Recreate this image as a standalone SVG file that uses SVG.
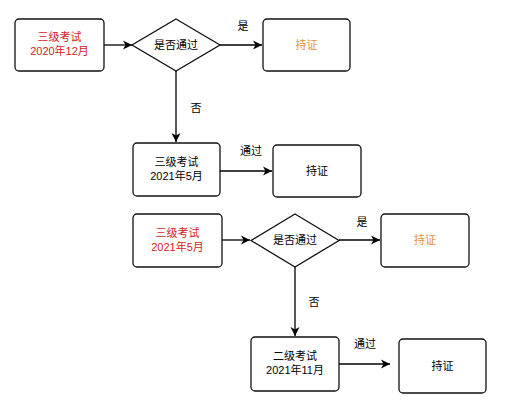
<svg xmlns="http://www.w3.org/2000/svg" width="528" height="404" viewBox="0 0 528 404">
<defs>
<marker id="arr" markerWidth="10" markerHeight="10" refX="9" refY="5" orient="auto" markerUnits="userSpaceOnUse">
<path d="M0,0.5 L9,5 L0,9.5 L2.5,5 Z" fill="#000"/>
</marker>
<style>
.box{fill:#fff;stroke:#111;stroke-width:1.3}
.t{font-family:"Liberation Sans","Noto Sans CJK SC",sans-serif;font-size:11px;text-anchor:middle}
.red{fill:#d42424}
.org{fill:#e8913a}
.blk{fill:#000}
.edge{stroke:#000;stroke-width:1.3;fill:none;marker-end:url(#arr)}
</style>
</defs>
<rect width="528" height="404" fill="#fff"/>
<g id="connectors">
<line class="edge" x1="104" y1="45" x2="132" y2="45"/>
<line class="edge" x1="220" y1="45" x2="262" y2="45"/>
<line class="edge" x1="176" y1="71" x2="176" y2="142"/>
<line class="edge" x1="220" y1="171" x2="272" y2="171"/>
<line class="edge" x1="222" y1="240" x2="250" y2="240"/>
<line class="edge" x1="339" y1="240" x2="380" y2="240"/>
<line class="edge" x1="295" y1="267" x2="295" y2="336"/>
<line class="edge" x1="339" y1="364" x2="390" y2="364"/>
<text class="t blk" x="243" y="30">是</text>
<text class="t blk" x="196" y="112">否</text>
<text class="t blk" x="251" y="155">通过</text>
<text class="t blk" x="362" y="226">是</text>
<text class="t blk" x="314" y="306">否</text>
<text class="t blk" x="365" y="348">通过</text>
</g>
<g id="n1">
<rect class="box" x="15" y="19" width="89" height="52" rx="4"/>
<text class="t red" x="59.5" y="41">三级考试</text>
<text class="t red" x="59.5" y="55">2020年12月</text>
</g>
<g id="d1">
<polygon class="box" points="176,19 220,45 176,71 132,45"/>
<text class="t blk" x="176" y="49">是否通过</text>
</g>
<g id="n2">
<rect class="box" x="263" y="19" width="87" height="52" rx="4"/>
<text class="t org" x="306.5" y="49">持证</text>
</g>
<g id="n3">
<rect class="box" x="133" y="143" width="87" height="53" rx="4"/>
<text class="t blk" x="176.5" y="166">三级考试</text>
<text class="t blk" x="176.5" y="180">2021年5月</text>
</g>
<g id="n4">
<rect class="box" x="273" y="145" width="88" height="52" rx="4"/>
<text class="t blk" x="317" y="175">持证</text>
</g>
<g id="n5">
<rect class="box" x="133" y="214" width="89" height="53" rx="4"/>
<text class="t red" x="177.5" y="237">三级考试</text>
<text class="t red" x="177.5" y="251">2021年5月</text>
</g>
<g id="d2">
<polygon class="box" points="295,214 339,240.5 295,267 251,240.5"/>
<text class="t blk" x="295" y="244">是否通过</text>
</g>
<g id="n6">
<rect class="box" x="381" y="214" width="88" height="53" rx="4"/>
<text class="t org" x="425" y="244">持证</text>
</g>
<g id="n7">
<rect class="box" x="251" y="337" width="88" height="54" rx="4"/>
<text class="t blk" x="295" y="360">二级考试</text>
<text class="t blk" x="295" y="374">2021年11月</text>
</g>
<g id="n8">
<rect class="box" x="399" y="339" width="87" height="54" rx="4"/>
<text class="t blk" x="442.5" y="370">持证</text>
</g>
</svg>
